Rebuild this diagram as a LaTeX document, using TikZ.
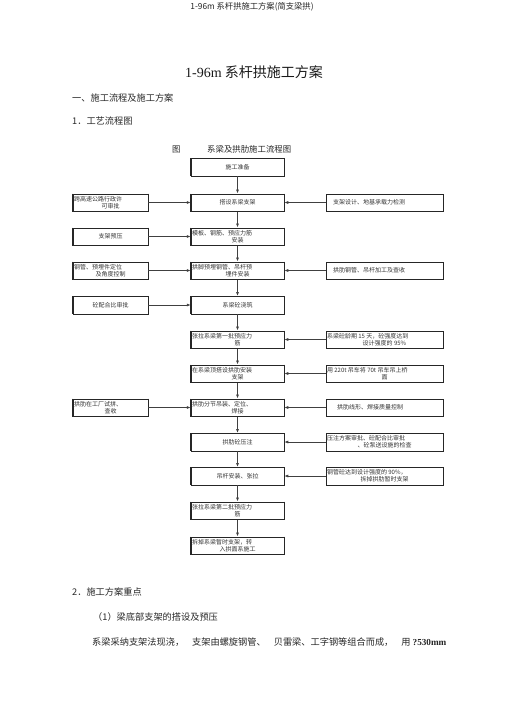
\documentclass[tikz,border=0pt]{standalone}
\usepackage{fontspec}
\setmainfont{Noto Sans CJK SC}
\newfontfamily\lat{Liberation Serif}
\usetikzlibrary{arrows.meta}
\newcommand{\twoline}[3]{\parbox{#1}{\raggedright #2\par\centering #3\par}}
\newcommand{\indline}[3]{\parbox{#1}{\raggedright\hspace*{#2}#3\par}}
\begin{document}
\begin{tikzpicture}[x=1pt,y=-1pt,
  box/.style={draw=black!85, line width=0.5pt, minimum height=17.5pt, inner sep=0.8pt,
              font=\fontsize{6}{7.3}\selectfont, text=black!80},
  cbox/.style={box, minimum width=93pt},
  lbox/.style={box, minimum width=75pt},
  rbox/.style={box, minimum width=117pt},
  arr/.style={draw=black!75, line width=0.7pt, -{Latex[length=4pt,width=3pt]}},
  txt/.style={anchor=west, inner sep=0pt, text=black!85}]
\useasboundingbox (0,0) rectangle (505,714);
% header
\node[inner sep=0pt, font=\fontsize{8.3}{10}\selectfont, text=black!85] (hdr) at (252,7) {1-96m 系杆拱施工方案(简支梁拱)};
\node[inner sep=0pt, font=\fontsize{14}{16}\selectfont, text=black!90] (ttl) at (254,72) {{\lat 1-96m} 系杆拱施工方案};
\node[txt, font=\fontsize{9.2}{11}\selectfont] (s1) at (72,98) {一、施工流程及施工方案};
\node[txt, font=\fontsize{9.2}{11}\selectfont] (s2) at (72,121) {1．工艺流程图};
\node[txt, font=\fontsize{8.4}{10}\selectfont] (capa) at (172,149) {图};
\node[txt, font=\fontsize{8.4}{10}\selectfont] (capb) at (207,149) {系梁及拱肋施工流程图};
% center boxes
\node[cbox] (c1) at (237.5,167.5) {施工准备};
\node[cbox] (c2) at (237.5,202.5) {搭设系梁支架};
\node[cbox] (c3) at (237.5,236.5) {\twoline{91pt}{模板、钢筋、预应力筋}{安装}};
\node[cbox] (c4) at (237.5,270.5) {\twoline{91pt}{拱脚预埋钢管、吊杆预}{埋件安装}};
\node[cbox] (c5) at (237.5,305) {系梁砼浇筑};
\node[cbox] (c6) at (237.5,339.5) {\twoline{91pt}{张拉系梁第一批预应力}{筋}};
\node[cbox] (c7) at (237.5,373.5) {\twoline{91pt}{在系梁顶搭设拱肋安装}{支架}};
\node[cbox] (c8) at (237.5,407.5) {\twoline{91pt}{拱肋分节吊装、定位、}{焊接}};
\node[cbox] (c9) at (237.5,442) {拱肋砼压注};
\node[cbox] (c10) at (237.5,476) {吊杆安装、张拉};
\node[cbox] (c11) at (237.5,510.5) {\twoline{91pt}{张拉系梁第二批预应力}{筋}};
\node[cbox] (c12) at (237.5,545.5) {\twoline{91pt}{拆掉系梁暂时支架，转}{入拱面系施工}};
% left boxes
\node[lbox] (l1) at (110.5,202.5) {\twoline{73pt}{跨高速公路行政许}{可审批}};
\node[lbox] (l2) at (110.5,236.5) {支架预压};
\node[lbox] (l3) at (110.5,270.5) {\twoline{73pt}{钢管、预埋件定位}{及角度控制}};
\node[lbox] (l4) at (110.5,305) {砼配合比审批};
\node[lbox] (l5) at (110.5,407.5) {\twoline{73pt}{拱肋在工厂试拼、}{查收}};
% right boxes
\node[rbox] (r1) at (384.5,202.5) {\indline{115pt}{6pt}{支架设计、地基承载力检测}};
\node[rbox] (r2) at (384.5,270.5) {\indline{115pt}{6pt}{拱肋钢管、吊杆加工及查收}};
\node[rbox] (r3) at (384.5,339.5) {\twoline{115pt}{系梁砼龄期 15 天，砼强度达到}{设计强度的 95\%}};
\node[rbox] (r4) at (384.5,373.5) {\twoline{115pt}{用 220t 吊车将 70t 吊车吊上桥}{面}};
\node[rbox] (r5) at (384.5,407.5) {\indline{115pt}{10pt}{拱肋线形、焊接质量控制}};
\node[rbox] (r6) at (384.5,442) {\twoline{115pt}{压注方案审批、砼配合比审批}{、砼泵送设施的检查}};
\node[rbox] (r7) at (384.5,476) {\twoline{115pt}{钢管砼达到设计强度的 90\%，}{拆掉拱肋暂时支架}};
% thick sides
\foreach \n in {c1,c2,c3,c4,c5,c6,c7,c8,c9,c10,c11,c12,l1,l2,l3,l4,l5}
  \draw[line width=1.3pt, black!85] (\n.north west) -- (\n.south west) (\n.north east) -- (\n.south east);
% vertical arrows
\foreach \a/\b in {c1/c2,c2/c3,c3/c4,c4/c5,c5/c6,c6/c7,c7/c8,c8/c9,c9/c10,c10/c11,c11/c12}
  \draw[arr] (\a) -- (\b);
% horizontal arrows
\foreach \a/\b in {l1/c2,l2/c3,l3/c4,l4/c5,l5/c8,r1/c2,r2/c4,r3/c6,r4/c7,r5/c8,r6/c9,r7/c10}
  \draw[arr] (\a) -- (\b);
% lower text
\node[txt, font=\fontsize{9.2}{11}\selectfont] (s3) at (72,592) {2．施工方案重点};
\node[txt, font=\fontsize{9.2}{11}\selectfont] (s4) at (93,617) {（1）梁底部支架的搭设及预压};
\node[txt, font=\fontsize{9.2}{11}\selectfont] (s5) at (92,642) {系梁采纳支架法现浇，\hspace{8pt}支架由螺旋钢管、\hspace{8pt}贝雷梁、工字钢等组合而成，\hspace{8pt}用 {\lat\bfseries ?530mm}};
\end{tikzpicture}
\end{document}
